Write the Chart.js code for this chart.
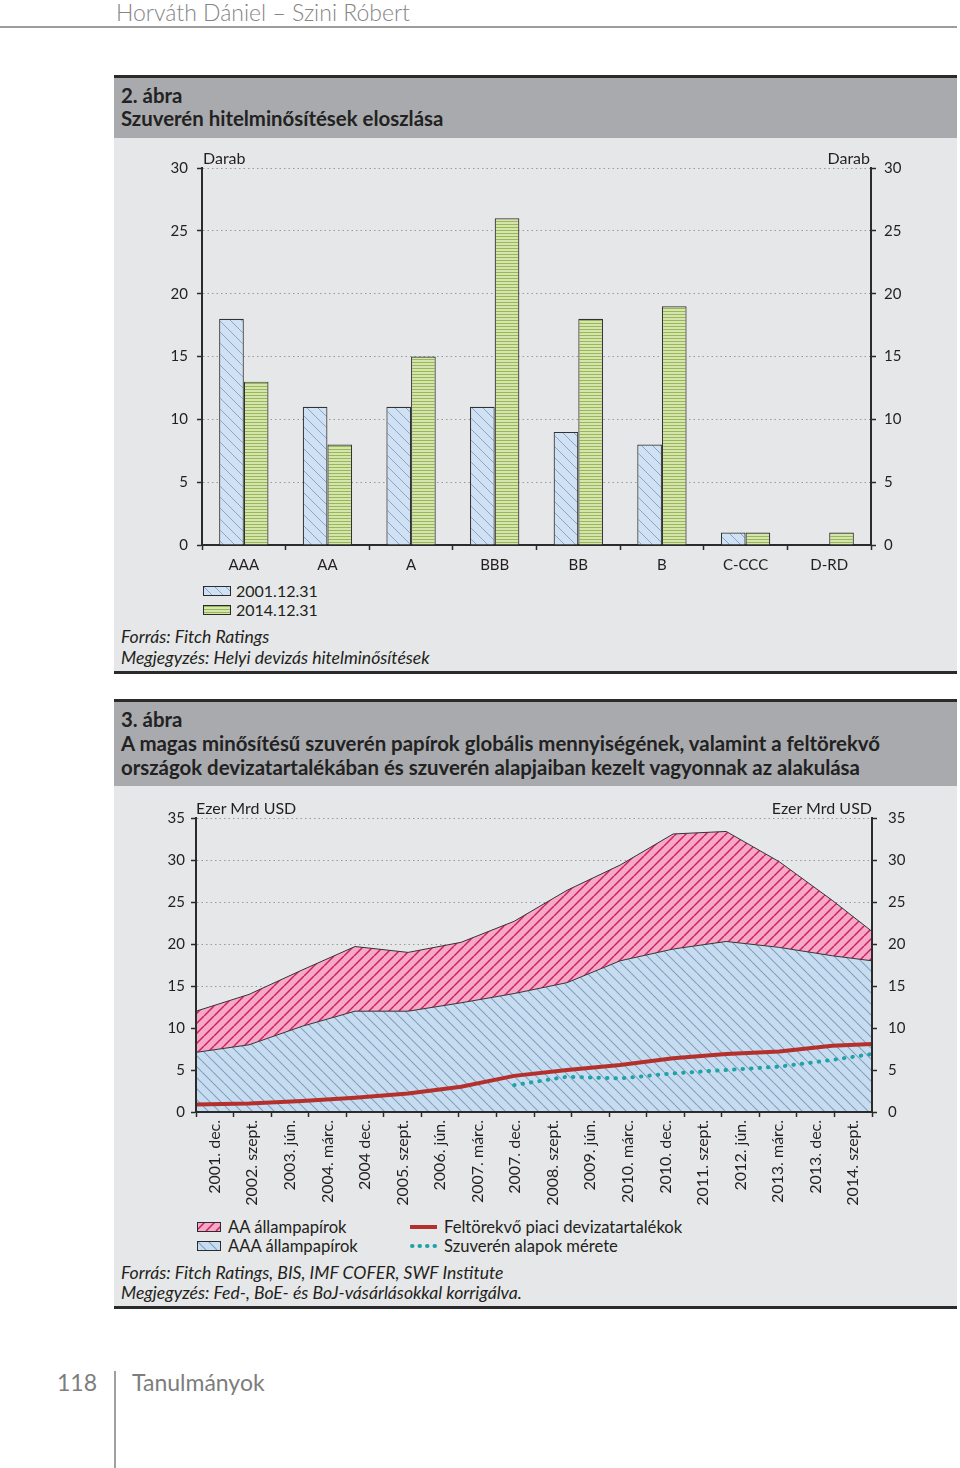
<!DOCTYPE html>
<html lang="hu">
<head>
<meta charset="utf-8">
<title>Szuverén hitelminősítések</title>
<script src="https://cdn.jsdelivr.net/npm/chart.js@4/dist/chart.umd.min.js"></script>
<style>
  html, body { margin: 0; padding: 0; background: #fff; }
  body { width: 960px; height: 1468px; position: relative; overflow: hidden;
         font-family: Lato, "Noto Sans", sans-serif; color: #231f20; }
  .abs { position: absolute; white-space: nowrap; }
  .head { left: 116px; top: -2px; font-size: 23px; line-height: 28px; font-weight: 300; color: #858585; }
  .head-rule { left: 0; top: 26px; width: 957px; height: 2px; background: #9d9d9d; }
  .rule { left: 114px; width: 843px; height: 3px; background: #2b2b2b; }
  .title { left: 114px; width: 843px; background: #a9aaad; box-sizing: border-box;
           padding-left: 7px; font-weight: 700; font-size: 20.4px; color: #222; }
  .panel { left: 114px; width: 843px; background: #e6e7e8; }
  .unit { font-size: 16px; line-height: 20px; }
  .lg2 { font-size: 16px; line-height: 18px; }
  .lg3 { font-size: 16.6px; line-height: 18px; }
  .note { left: 121px; font-size: 17.6px; line-height: 20px; font-style: italic; }
  .foot { top: 1368px; font-size: 23px; line-height: 28px; color: #7d7d7d; }
  canvas { position: absolute; }
</style>
</head>
<body>
<div class="abs head">Horváth Dániel – Szini Róbert</div>
<div class="abs head-rule"></div>

<!-- 2. ábra -->
<div class="abs rule" style="top:75px"></div>
<div class="abs title" style="top:78px;height:60px;padding-top:6px;line-height:23px">2. ábra<br>Szuverén hitelminősítések eloszlása</div>
<div class="abs panel" style="top:138px;height:533px"></div>
<div class="abs rule" style="top:671px"></div>
<canvas id="ratingsChart" width="843" height="442" style="left:114px;top:138px;width:843px;height:442px"></canvas>
<div class="abs unit" style="left:203px;top:148px">Darab</div>
<div class="abs unit" style="right:90px;top:148px">Darab</div>
<canvas id="sw2001" width="30" height="12" style="left:202px;top:585px"></canvas>
<div class="abs lg2" style="left:236px;top:582px">2001.12.31</div>
<canvas id="sw2014" width="30" height="12" style="left:202px;top:604px"></canvas>
<div class="abs lg2" style="left:236px;top:601px">2014.12.31</div>
<div class="abs note" style="top:627px">Forrás: Fitch Ratings</div>
<div class="abs note" style="top:648px">Megjegyzés: Helyi devizás hitelminősítések</div>

<!-- 3. ábra -->
<div class="abs rule" style="top:699px"></div>
<div class="abs title" style="top:702px;height:84px;padding-top:5px;line-height:24px">3. ábra<br>A magas minősítésű szuverén papírok globális mennyiségének, valamint a feltörekvő<br>országok devizatartalékában és szuverén alapjaiban kezelt vagyonnak az alakulása</div>
<div class="abs panel" style="top:786px;height:520px"></div>
<div class="abs rule" style="top:1306px"></div>
<canvas id="holdingsChart" width="843" height="430" style="left:114px;top:786px;width:843px;height:430px"></canvas>
<div class="abs unit" style="left:196px;top:798px">Ezer Mrd USD</div>
<div class="abs unit" style="right:88px;top:798px">Ezer Mrd USD</div>
<canvas id="swAA" width="26" height="12" style="left:196px;top:1221px"></canvas>
<div class="abs lg3" style="left:228px;top:1218px">AA állampapírok</div>
<canvas id="swAAA" width="26" height="12" style="left:196px;top:1240px"></canvas>
<div class="abs lg3" style="left:228px;top:1237px">AAA állampapírok</div>
<canvas id="swRes" width="30" height="12" style="left:409px;top:1221px"></canvas>
<div class="abs lg3" style="left:444px;top:1218px">Feltörekvő piaci devizatartalékok</div>
<canvas id="swSwf" width="30" height="12" style="left:409px;top:1240px"></canvas>
<div class="abs lg3" style="left:444px;top:1237px">Szuverén alapok mérete</div>
<div class="abs note" style="top:1263px">Forrás: Fitch Ratings, BIS, IMF COFER, SWF Institute</div>
<div class="abs note" style="top:1283px">Megjegyzés: Fed-, BoE- és BoJ-vásárlásokkal korrigálva.</div>

<div class="abs foot" style="left:57px">118</div>
<div class="abs" style="left:114px;top:1371px;width:2px;height:97px;background:#a0a0a0"></div>
<div class="abs foot" style="left:132px">Tanulmányok</div>

<script>
// 2. ábra: number of sovereign ratings by grade
const ratingCategories = ["AAA", "AA", "A", "BBB", "BB", "B", "C-CCC", "D-RD"]
const ratings2001 = [18, 11, 11, 11, 9, 8, 1, 0]
const ratings2014 = [13, 8, 15, 26, 18, 19, 1, 1]

// 3. ábra: thousand bn USD, year-end observations (last one 2014 Sept)
const axisLabels = ["2001. dec.", "2002. szept.", "2003. jún.", "2004. márc.", "2004 dec.",
  "2005. szept.", "2006. jún.", "2007. márc.", "2007. dec.", "2008. szept.", "2009. jún.",
  "2010. márc.", "2010. dec.", "2011. szept.", "2012. jún.", "2013. márc.", "2013. dec.", "2014. szept."]
const obsDates = ["2001-12", "2002-12", "2003-12", "2004-12", "2005-12", "2006-12", "2007-12",
  "2008-12", "2009-12", "2010-12", "2011-12", "2012-12", "2013-12", "2014-09"]
const aaaBonds = [7.1, 8.0, 10.2, 12.0, 12.0, 13.0, 14.1, 15.4, 18.0, 19.4, 20.3, 19.6, 18.6, 18.0]
const aaBonds = [4.9, 6.0, 6.7, 7.7, 7.0, 7.2, 8.6, 11.0, 11.4, 13.7, 13.1, 10.2, 6.6, 3.5]
const emReserves = [0.9, 1.0, 1.3, 1.7, 2.2, 3.0, 4.3, 5.0, 5.6, 6.4, 6.9, 7.2, 7.9, 8.1]
const swfAssets = [null, null, null, null, null, null, 3.2, 4.2, 4.0, 4.6, 5.0, 5.4, 6.2, 6.9]

const ink = "#2b2b2b"
Chart.defaults.font.family = "Lato, 'Noto Sans', sans-serif"
Chart.defaults.font.size = 15
Chart.defaults.color = "#231f20"

function hatch(bg, line, step, width, dir) {
  const c = document.createElement("canvas")
  c.width = c.height = step
  const g = c.getContext("2d")
  g.fillStyle = bg
  g.fillRect(0, 0, step, step)
  g.strokeStyle = line
  g.lineWidth = width
  g.beginPath()
  for (const k of [-1, 0, 1]) {
    if (dir === "down") { g.moveTo(k * step, 0); g.lineTo(k * step + step, step) }
    else { g.moveTo(k * step, step); g.lineTo(k * step + step, 0) }
  }
  g.stroke()
  return g.createPattern(c, "repeat")
}

function stripes(bg, line, step) {
  const c = document.createElement("canvas")
  c.width = c.height = step
  const g = c.getContext("2d")
  g.fillStyle = bg
  g.fillRect(0, 0, step, step)
  g.fillStyle = line
  g.fillRect(0, step - 1, step, 1)
  return g.createPattern(c, "repeat")
}

const barBlue = hatch("#cfe1f3", "#87a7c8", 11, 1, "down")
const barGreen = stripes("#d6e5ae", "#98b758", 3)
const areaBlue = hatch("#c8dcf0", "#7f9fc3", 11, 1.1, "down")
const areaPink = hatch("#f6a8c4", "#cc1f68", 10, 1.5, "up")

function boxSwatch(id, fill, w, h) {
  const g = document.getElementById(id).getContext("2d")
  g.fillStyle = fill
  g.fillRect(1, 1, w, h)
  g.strokeStyle = ink
  g.lineWidth = 1
  g.strokeRect(1.5, 1.5, w - 1, h - 1)
}
boxSwatch("sw2001", barBlue, 28, 10)
boxSwatch("sw2014", barGreen, 28, 10)
boxSwatch("swAA", areaPink, 24, 10)
boxSwatch("swAAA", areaBlue, 24, 10)

function lineSwatch(id, color, dash) {
  const g = document.getElementById(id).getContext("2d")
  g.strokeStyle = color
  g.lineWidth = 4
  g.lineCap = dash ? "round" : "butt"
  g.setLineDash(dash || [])
  g.beginPath()
  g.moveTo(dash ? 3 : 1, 6)
  g.lineTo(28, 6)
  g.stroke()
}
lineSwatch("swRes", "#b3302d")
lineSwatch("swSwf", "#1fa3a6", [0.5, 7])

const tickGrid = { tickColor: ink, tickLength: 5, tickWidth: 1.5 }

new Chart(document.getElementById("ratingsChart"), {
  type: "bar",
  data: {
    labels: ratingCategories,
    datasets: [
      { label: "2001.12.31", data: ratings2001, backgroundColor: barBlue },
      { label: "2014.12.31", data: ratings2014, backgroundColor: barGreen }
    ]
  },
  options: {
    responsive: false,
    animation: false,
    layout: { padding: { top: 30, left: 0, right: 0, bottom: 0 } },
    datasets: { bar: { borderColor: "#333", borderWidth: 1.2, categoryPercentage: 0.59, barPercentage: 1 } },
    plugins: { legend: { display: false }, tooltip: { enabled: false } },
    scales: {
      x: {
        grid: { offset: true, drawOnChartArea: false, ...tickGrid },
        border: { color: ink, width: 2 },
        ticks: { padding: 6 },
        afterFit: (s) => { s.height = 35 }
      },
      y: {
        min: 0, max: 30,
        ticks: { stepSize: 5, padding: 9 },
        grid: { color: "#9a9a9a", lineWidth: 1, ...tickGrid },
        border: { color: ink, width: 2, dash: [1.5, 3] },
        afterFit: (s) => { s.width = 88 }
      },
      y2: {
        position: "right",
        min: 0, max: 30,
        ticks: { stepSize: 5, padding: 8 },
        grid: { drawOnChartArea: false, ...tickGrid },
        border: { color: ink, width: 2 },
        afterFit: (s) => { s.width = 86 }
      }
    }
  }
})

const [y0, m0] = obsDates[0].split("-").map(Number)
const months = obsDates.map((d) => {
  const [y, m] = d.split("-").map(Number)
  return (y - y0) * 12 + (m - m0)
})
const points = (values) => values.map((v, i) => ({ x: months[i], y: v }))

const areaStyle = { borderColor: "#333", borderWidth: 1, pointRadius: 0, tension: 0, xAxisID: "xd", stack: "bonds" }

// stacking follows "order", so AAA (bottom) gets the lower order of the two areas
new Chart(document.getElementById("holdingsChart"), {
  type: "line",
  data: {
    labels: axisLabels,
    datasets: [
      { label: "AAA állampapírok", data: points(aaaBonds), fill: "origin", backgroundColor: areaBlue, order: 2, ...areaStyle },
      { label: "AA állampapírok", data: points(aaBonds), fill: "-1", backgroundColor: areaPink, order: 3, ...areaStyle },
      { label: "Feltörekvő piaci devizatartalékok", data: points(emReserves), stack: "reserves", xAxisID: "xd",
        fill: false, borderColor: "#b3302d", borderWidth: 4, pointRadius: 0, order: 1 },
      { label: "Szuverén alapok mérete", data: points(swfAssets), stack: "swf", xAxisID: "xd",
        fill: false, borderColor: "#1fa3a6", borderWidth: 4, borderDash: [0.5, 8], borderCapStyle: "round",
        pointRadius: 0, order: 0 }
    ]
  },
  options: {
    responsive: false,
    animation: false,
    layout: { padding: { top: 32, left: 0, right: 0, bottom: 0 } },
    plugins: { legend: { display: false }, tooltip: { enabled: false } },
    scales: {
      x: {
        type: "category",
        offset: true,
        grid: { offset: true, drawOnChartArea: false, ...tickGrid },
        border: { color: ink, width: 2, z: 1 },
        ticks: { autoSkip: false, minRotation: 90, maxRotation: 90, padding: 3, font: { size: 16 } },
        afterFit: (s) => { s.height = 104 }
      },
      xd: { type: "linear", display: false, min: 0, max: months[months.length - 1] },
      y: {
        stacked: true,
        min: 0, max: 35,
        ticks: { stepSize: 5, padding: 6 },
        grid: { color: "#9a9a9a", lineWidth: 1, ...tickGrid },
        border: { color: ink, width: 2, dash: [1.5, 3], z: 1 },
        afterFit: (s) => { s.width = 82 }
      },
      y2: {
        position: "right",
        min: 0, max: 35,
        ticks: { stepSize: 5, padding: 11 },
        grid: { drawOnChartArea: false, ...tickGrid },
        border: { color: ink, width: 2, z: 1 },
        afterFit: (s) => { s.width = 85 }
      }
    }
  }
})
</script>
</body>
</html>
